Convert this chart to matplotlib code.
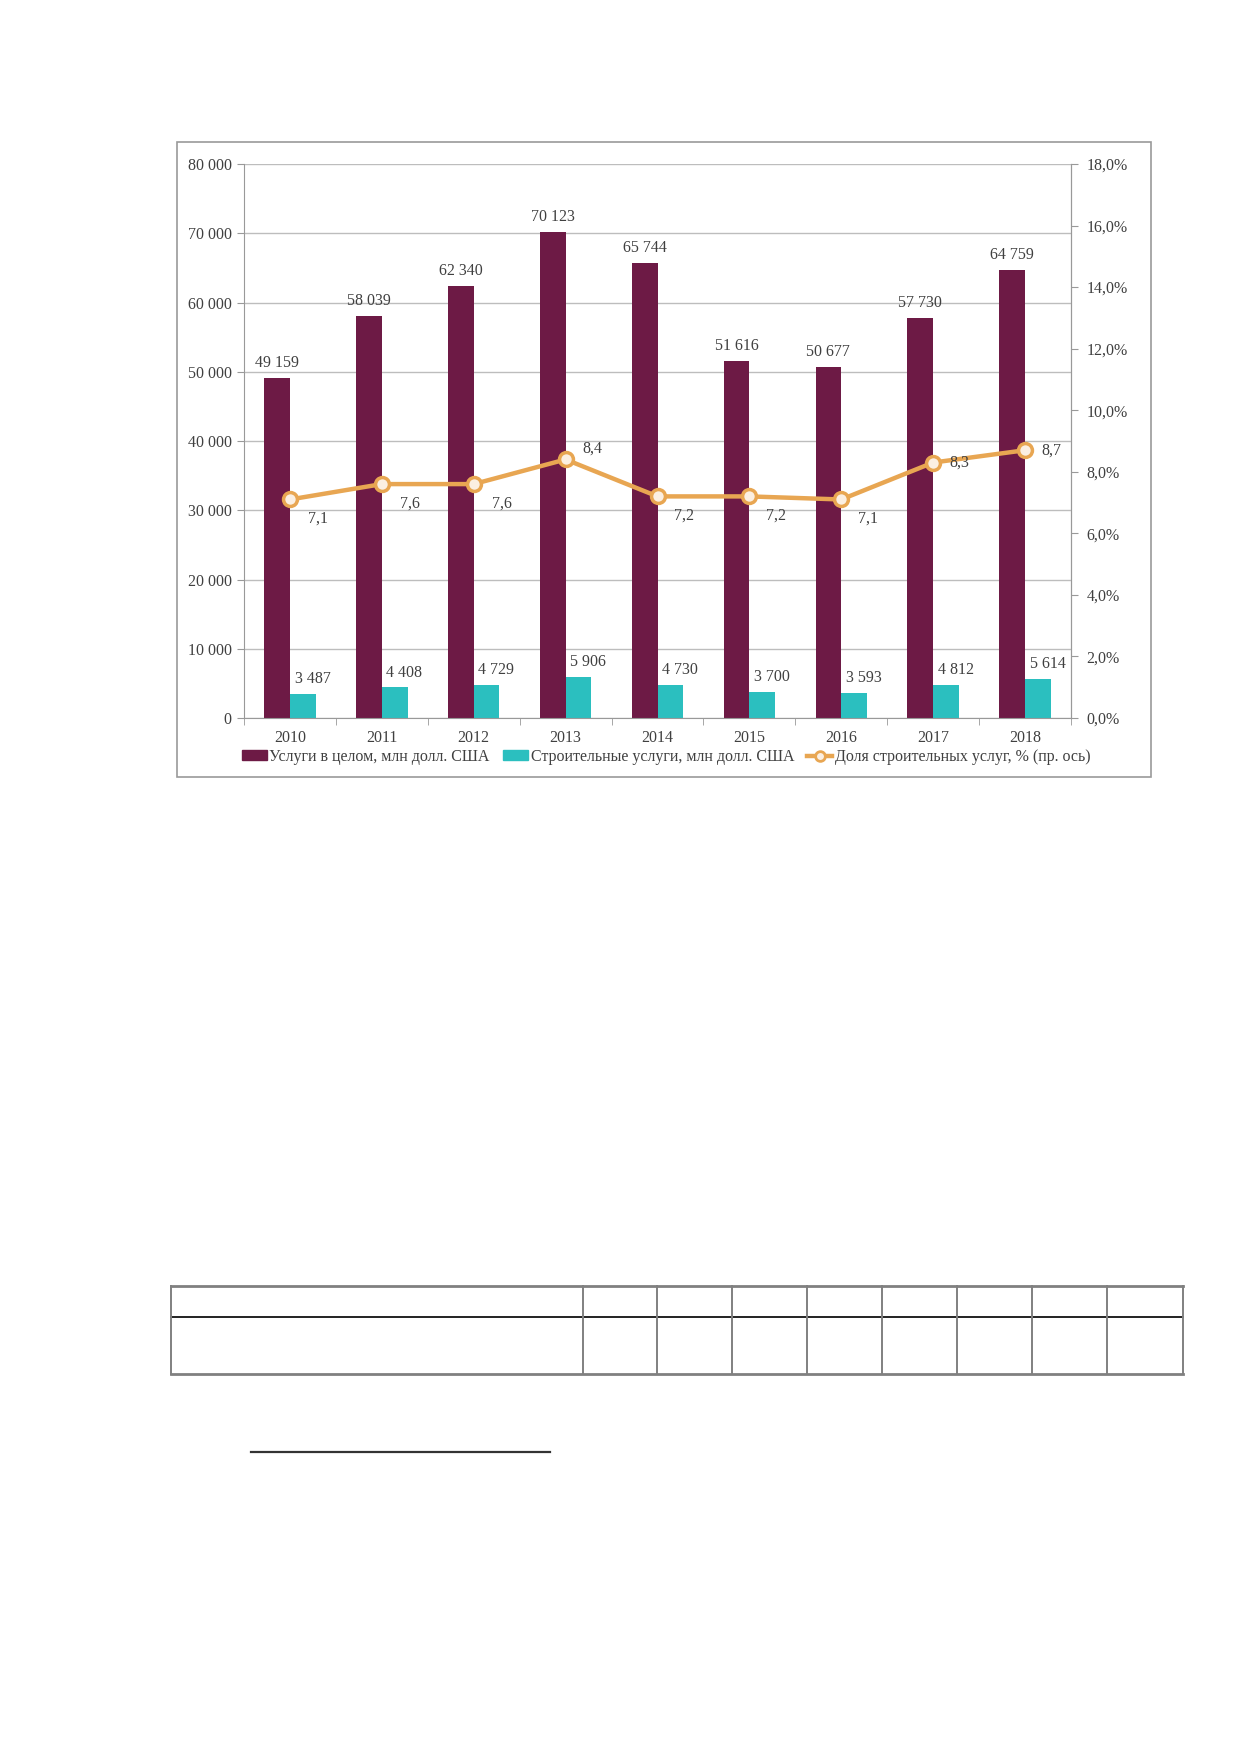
import matplotlib
matplotlib.use('Agg')
from matplotlib import pyplot as plt
from matplotlib.patches import Rectangle, Patch
from matplotlib.lines import Line2D
import numpy as np

years = ['2010', '2011', '2012', '2013', '2014', '2015', '2016', '2017', '2018']
services_total = [49159, 58039, 62340, 70123, 65744, 51616, 50677, 57730, 64759]
construction = [3487, 4408, 4729, 5906, 4730, 3700, 3593, 4812, 5614]
share = [7.1, 7.6, 7.6, 8.4, 7.2, 7.2, 7.1, 8.3, 8.7]

maroon = '#6D1A45'
teal = '#2BBFBF'
orange = '#E8A652'
text_col = '#404040'
grid_col = '#BDBDBD'

plt.rcParams['font.family'] = ['Liberation Serif', 'DejaVu Serif']
plt.rcParams['font.size'] = 11.5

W, H = 1239, 1752
fig = plt.figure(figsize=(W / 100, H / 100), dpi=100)

# frame around the chart
fig.add_artist(Rectangle((177 / W, 1 - 777 / H), (1151 - 177) / W, (777 - 142) / H,
                         transform=fig.transFigure, fill=False, edgecolor='#9A9A9A', lw=1.2))

ax = fig.add_axes([244 / W, 1 - 718 / H, (1071 - 244) / W, (718 - 164) / H])
x = np.arange(len(years))
bw = 0.28
ax.bar(x - bw / 2, services_total, bw, color=maroon, zorder=2)
ax.bar(x + bw / 2, construction, bw, color=teal, zorder=2)

ax.set_xlim(-0.5, len(years) - 0.5)
ax.set_ylim(0, 80000)
ax.set_yticks(range(0, 80001, 10000))
ax.set_yticklabels(['0' if v == 0 else '{:,}'.format(v).replace(',', ' ') for v in range(0, 80001, 10000)])
ax.yaxis.grid(True, color=grid_col, lw=1)
ax.set_axisbelow(True)
ax.set_xticks(x)
ax.set_xticklabels(years)
ax.set_xticks(np.arange(-0.5, len(years), 1), minor=True)
ax.tick_params(axis='x', which='major', length=0, pad=9, colors=text_col, labelsize=11.5)
ax.tick_params(axis='x', which='minor', length=5, color='#999999')
ax.tick_params(axis='y', length=5, color='#999999', colors=text_col, labelsize=11.5, pad=4)
ax.spines['top'].set_visible(False)
for s in ['left', 'bottom', 'right']:
    ax.spines[s].set_color('#999999')

for i, v in enumerate(services_total):
    ax.annotate('{:,}'.format(v).replace(',', ' '), (x[i] - bw / 2, v), xytext=(0, 5),
                textcoords='offset points', ha='center', va='bottom', color=text_col, fontsize=11.5)
for i, v in enumerate(construction):
    ax.annotate('{:,}'.format(v).replace(',', ' '), (x[i] + bw / 2, v), xytext=(7, 5),
                textcoords='offset points', ha='center', va='bottom', color=text_col, fontsize=11.5)

ax2 = ax.twinx()
ax2.set_ylim(0, 18)
ax2.set_yticks(range(0, 19, 2))
ax2.set_yticklabels(['{:.1f}%'.format(v).replace('.', ',') for v in range(0, 19, 2)])
ax2.tick_params(axis='y', length=5, color='#999999', colors=text_col, labelsize=11.5, pad=6)
for s in ['top', 'left', 'bottom']:
    ax2.spines[s].set_visible(False)
ax2.spines['right'].set_color('#999999')
ax2.plot(x, share, color=orange, lw=3.2, marker='o', markersize=10,
         markerfacecolor='#FBEFE2', markeredgecolor=orange, markeredgewidth=2.5, zorder=3)

offsets = [(13, -14), (13, -14), (13, -14), (12, 8), (12, -14), (12, -14), (12, -14), (12, 0), (12, 0)]
for i, v in enumerate(share):
    dx, dy = offsets[i]
    ax2.annotate('{:.1f}'.format(v).replace('.', ','), (x[i], v), xytext=(dx, dy),
                 textcoords='offset points', ha='left', va='center', color=text_col, fontsize=11.5)

handles = [Patch(color=maroon), Patch(color=teal),
           Line2D([0], [0], color=orange, lw=3.2, marker='o', markersize=7,
                  markerfacecolor='#FBEFE2', markeredgecolor=orange, markeredgewidth=2)]
labels = ['Услуги в целом, млн долл. США', 'Строительные услуги, млн долл. США',
          'Доля строительных услуг, % (пр. ось)']
leg = fig.legend(handles, labels, loc='center', bbox_to_anchor=(666 / W, 1 - 757 / H), ncol=3,
                 frameon=False, handlelength=1.6, handleheight=0.6, handletextpad=0.15,
                 columnspacing=0.8, fontsize=11.5)
for t in leg.get_texts():
    t.set_color(text_col)

# empty table outline and footnote rule below the chart
def fline(x0, y0, x1, y1, **kw):
    fig.add_artist(Line2D([x0 / W, x1 / W], [1 - y0 / H, 1 - y1 / H], transform=fig.transFigure, **kw))

fline(171, 1286, 1183, 1286, color='#808080', lw=2)
fline(171, 1317, 1183, 1317, color='#222222', lw=1.4)
fline(171, 1374, 1183, 1374, color='#808080', lw=2)
for cx in [171, 582.5, 657.4, 732.3, 807.3, 882.2, 957.2, 1032.2, 1107.1, 1182.8]:
    fline(cx, 1286, cx, 1374, color='#808080', lw=1.4)
fline(251, 1452, 550, 1452, color='#333333', lw=1.6)

fig.savefig('out.png', dpi=100)
